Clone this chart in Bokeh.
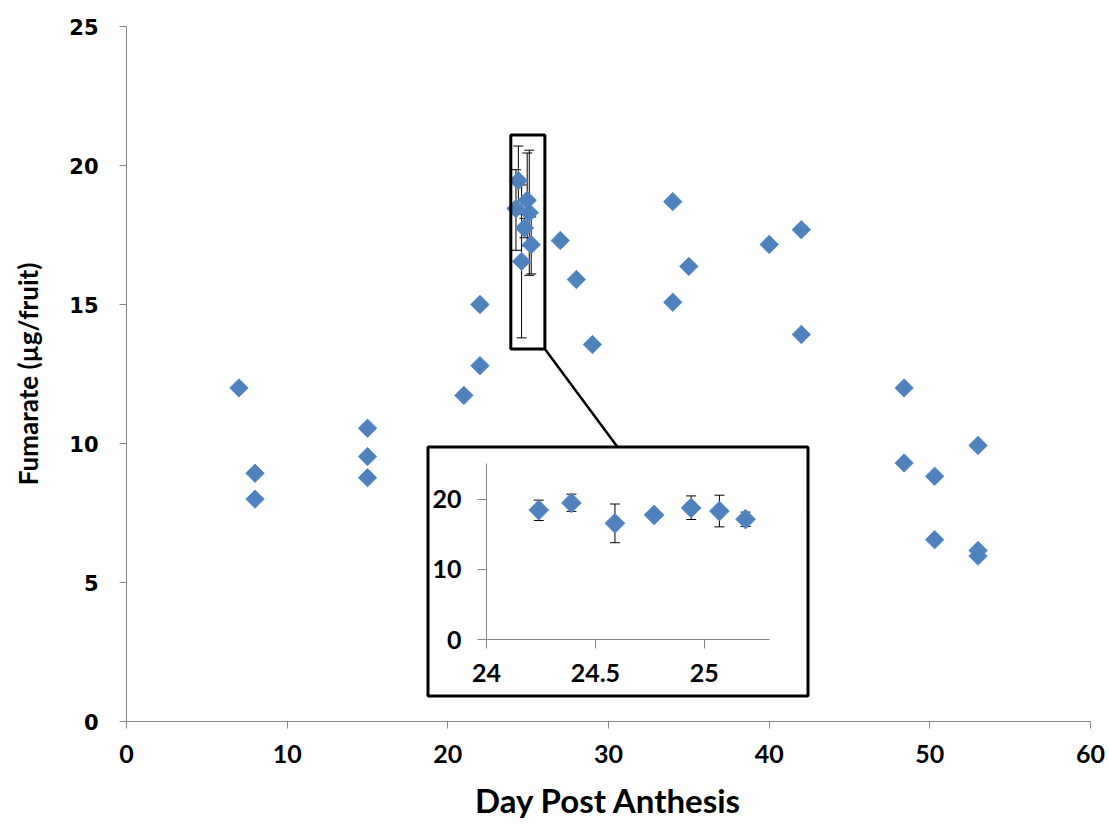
import numpy as np
from bokeh.plotting import figure
from bokeh.models import (ColumnDataSource, Whisker, TeeHead, FixedTicker, Range1d,
                          LinearAxis)
from bokeh.embed import file_html
from bokeh.resources import INLINE

# ---------------- data ----------------
days = [7, 8, 8, 15, 15, 15, 21, 22, 22, 27, 28, 29, 34, 34, 35, 40, 42, 42,
        48.4, 48.4, 50.3, 50.3, 53, 53, 53]
fumarate = [12.0, 8.93, 8.0, 10.55, 9.53, 8.77, 11.73, 12.8, 15.0, 17.3, 15.9, 13.56,
            18.7, 15.08, 16.37, 17.16, 17.69, 13.92, 12.0, 9.3, 8.82, 6.54, 9.93, 6.15, 5.95]

inset_days = [24.24, 24.39, 24.59, 24.77, 24.94, 25.07, 25.19]
inset_mean = [18.45, 19.45, 16.55, 17.75, 18.75, 18.3, 17.15]
inset_lo = [16.95, 18.25, 13.8, 17.4, 17.1, 16.05, 16.1]
inset_hi = [19.85, 20.7, 19.3, 18.1, 20.45, 20.55, 18.15]

x_ticks = [0, 10, 20, 30, 40, 50, 60]
y_ticks = [0, 5, 10, 15, 20, 25]
inset_x_ticks = [24, 24.5, 25]
inset_y_ticks = [0, 10, 20]
inset_x_limits = (24, 25.3)
inset_y_limits = (0, 25)

# ---------------- layout of the annotations (main-chart data units) ----------------
ZOOM_BOX = dict(left=23.92, right=26.04, bottom=13.40, top=21.10)
INSET_BOX = dict(left=18.765, right=42.417, bottom=0.917, top=9.874)
INSET_FRAME = dict(left=22.407, right=40.021, bottom=2.939, top=9.266)
CONNECTOR_END_X = 30.56

BLUE = "#4F81BD"
EDGE = "#5B8CC8"
AXIS_GREY = "#868686"
TICK_FONT = "Lato"

X_MAIN = (0, 60)
Y_MAIN = (0, 25)

# extra ranges so that the inset's own scales map onto its frame
bx = (INSET_FRAME["right"] - INSET_FRAME["left"]) / (inset_x_limits[1] - inset_x_limits[0])
by = (INSET_FRAME["top"] - INSET_FRAME["bottom"]) / (inset_y_limits[1] - inset_y_limits[0])
ix_start = inset_x_limits[0] - (INSET_FRAME["left"] - X_MAIN[0]) / bx
ix_end = inset_x_limits[0] + (X_MAIN[1] - INSET_FRAME["left"]) / bx
iy_start = inset_y_limits[0] - (INSET_FRAME["bottom"] - Y_MAIN[0]) / by
iy_end = inset_y_limits[0] + (Y_MAIN[1] - INSET_FRAME["bottom"]) / by

main_src = ColumnDataSource(dict(x=days, y=fumarate))
clu_src = ColumnDataSource(dict(x=inset_days, y=inset_mean, lo=inset_lo, hi=inset_hi))

p = figure(width=1109, height=827, x_range=Range1d(*X_MAIN), y_range=Range1d(*Y_MAIN),
           output_backend="svg", toolbar_location=None,
           min_border_left=126, min_border_right=19, min_border_top=26, min_border_bottom=106)
p.extra_x_ranges = {"ix": Range1d(ix_start, ix_end)}
p.extra_y_ranges = {"iy": Range1d(iy_start, iy_end)}
p.outline_line_color = None
p.grid.grid_line_color = None
p.background_fill_color = "white"
p.border_fill_color = "white"

for ax in (p.xaxis[0], p.yaxis[0]):
    ax.axis_line_color = AXIS_GREY
    ax.major_tick_line_color = AXIS_GREY
    ax.minor_tick_line_color = None
    ax.major_tick_in = 0
    ax.major_tick_out = 7
    ax.axis_label_text_font_style = "bold"
    ax.major_label_text_font_style = "bold"
    ax.major_label_text_color = "black"
    ax.axis_label_text_color = "black"
    ax.axis_label_text_font = TICK_FONT

p.xaxis.ticker = FixedTicker(ticks=x_ticks)
p.yaxis.ticker = FixedTicker(ticks=y_ticks)
p.xaxis.major_label_text_font = TICK_FONT
p.xaxis.major_label_text_font_size = "25px"
p.xaxis.major_label_standoff = 16
p.xaxis.axis_label = "Day Post Anthesis"
p.xaxis.axis_label_text_font_size = "33px"
p.xaxis.axis_label_standoff = 14

p.yaxis.major_label_text_font = "DejaVu Sans"
p.yaxis.major_label_text_font_size = "21px"
p.yaxis.major_label_standoff = 21
p.yaxis.axis_label = "Fumarate (µg/fruit)"
p.yaxis.axis_label_text_font_size = "26px"
p.yaxis.axis_label_standoff = 22

# main series
p.scatter("x", "y", source=main_src, marker="square", angle=np.pi / 4, size=13,
          fill_color=BLUE, line_color=EDGE, line_width=1)
p.add_layout(Whisker(source=clu_src, base="x", lower="lo", upper="hi",
                     line_color="black", line_width=1, level="underlay",
                     upper_head=TeeHead(size=10, line_color="black", line_width=1),
                     lower_head=TeeHead(size=10, line_color="black", line_width=1)))
p.scatter("x", "y", source=clu_src, marker="square", angle=np.pi / 4, size=13,
          fill_color=BLUE, line_color=EDGE, line_width=1)

# zoom box and connector
p.quad(left=[ZOOM_BOX["left"]], right=[ZOOM_BOX["right"]], bottom=[ZOOM_BOX["bottom"]],
       top=[ZOOM_BOX["top"]], fill_color=None, line_color="black", line_width=3)
p.segment(x0=[ZOOM_BOX["right"]], y0=[ZOOM_BOX["bottom"]], x1=[CONNECTOR_END_X],
          y1=[INSET_BOX["top"]], line_color="black", line_width=2.5)

# inset panel (white box with black border), below the inset axes (guide level)
p.quad(left=[INSET_BOX["left"]], right=[INSET_BOX["right"]], bottom=[INSET_BOX["bottom"]],
       top=[INSET_BOX["top"]], fill_color="white", line_color="black", line_width=3)

# inset axes drawn at fixed locations within the inset
ix_axis = LinearAxis(x_range_name="ix", y_range_name="iy", fixed_location=inset_y_limits[0],
                     bounds=inset_x_limits, ticker=FixedTicker(ticks=inset_x_ticks))
iy_axis = LinearAxis(x_range_name="ix", y_range_name="iy", fixed_location=inset_x_limits[0],
                     bounds=inset_y_limits, ticker=FixedTicker(ticks=inset_y_ticks))
for ax in (ix_axis, iy_axis):
    ax.axis_line_color = AXIS_GREY
    ax.major_tick_line_color = AXIS_GREY
    ax.minor_tick_line_color = None
    ax.major_tick_in = 0
    ax.major_tick_out = 9
    ax.major_label_text_font = TICK_FONT
    ax.major_label_text_font_style = "bold"
    ax.major_label_text_font_size = "25px"
    ax.major_label_text_color = "black"
ix_axis.major_label_standoff = 15
iy_axis.major_label_standoff = 16
p.add_layout(ix_axis, "below")
p.add_layout(iy_axis, "left")

ins_whisk = Whisker(source=clu_src, base="x", lower="lo", upper="hi",
                    x_range_name="ix", y_range_name="iy",
                    line_color="black", line_width=1, level="annotation",
                    upper_head=TeeHead(size=10, line_color="black", line_width=1),
                    lower_head=TeeHead(size=10, line_color="black", line_width=1))
p.add_layout(ins_whisk)
p.scatter("x", "y", source=clu_src, x_range_name="ix", y_range_name="iy",
          marker="square", angle=np.pi / 4, size=14, level="overlay",
          fill_color=BLUE, line_color=EDGE, line_width=1)

open("out.html", "w").write(file_html(p, INLINE))
